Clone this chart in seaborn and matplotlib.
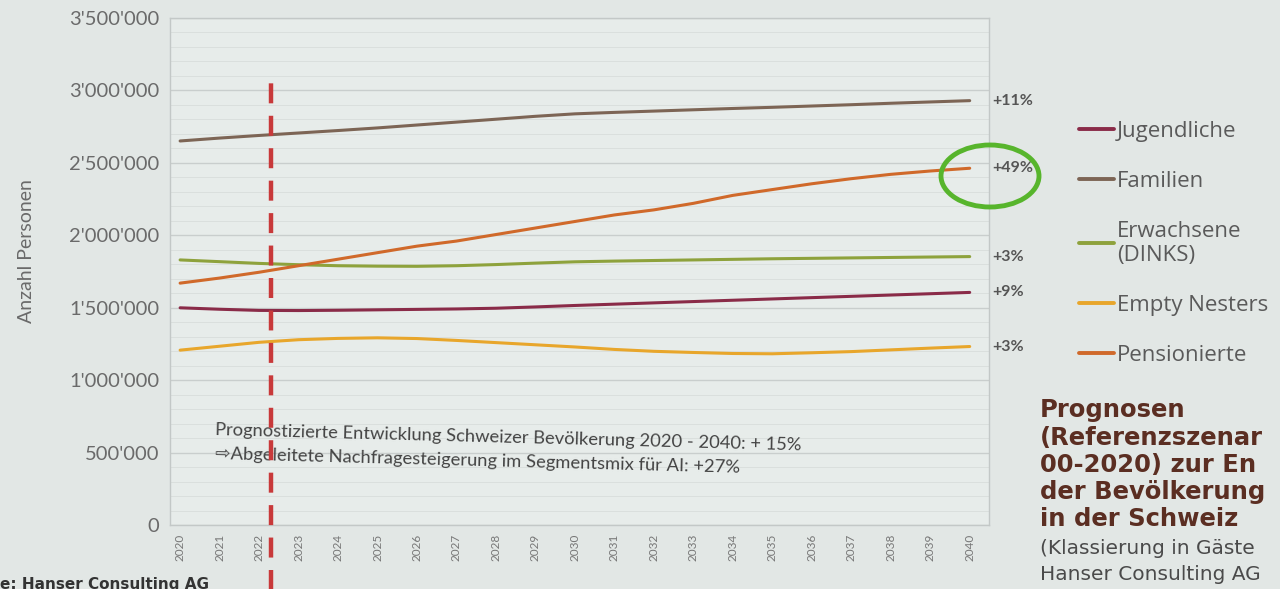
import matplotlib
matplotlib.use("Agg")
import matplotlib.pyplot as plt
import seaborn as sns
import pandas as pd
from matplotlib.patches import Ellipse
from matplotlib.ticker import FuncFormatter, MultipleLocator

# ---------------- data (in persons) ----------------
years = list(range(2020, 2041))

jugendliche = [1500000, 1490000, 1482000, 1481000, 1483000, 1486000, 1489000, 1492000,
               1497000, 1506000, 1516000, 1525000, 1534000, 1543000, 1552000, 1561000,
               1570000, 1579000, 1588000, 1597000, 1606000]
familien = [2650000, 2670000, 2688000, 2705000, 2722000, 2740000, 2760000, 2780000,
            2800000, 2820000, 2837000, 2847000, 2856000, 2865000, 2874000, 2882000,
            2891000, 2900000, 2910000, 2919000, 2928000]
erwachsene = [1830000, 1818000, 1806000, 1797000, 1790000, 1787000, 1786000, 1790000,
              1798000, 1808000, 1817000, 1822000, 1826000, 1830000, 1834000, 1838000,
              1841000, 1844000, 1847000, 1850000, 1853000]
empty_nesters = [1208000, 1235000, 1262000, 1280000, 1289000, 1293000, 1288000, 1275000,
                 1260000, 1245000, 1230000, 1213000, 1200000, 1192000, 1185000, 1183000,
                 1190000, 1198000, 1210000, 1222000, 1233000]
pensionierte = [1670000, 1705000, 1745000, 1790000, 1835000, 1880000, 1925000, 1960000,
                2005000, 2050000, 2095000, 2140000, 2175000, 2220000, 2275000, 2315000,
                2355000, 2390000, 2420000, 2443000, 2462000]

segments = ["Jugendliche", "Familien", "Erwachsene\n(DINKS)", "Empty Nesters", "Pensionierte"]
series = [jugendliche, familien, erwachsene, empty_nesters, pensionierte]
colors = ["#8a2b48", "#7d6555", "#8ea23c", "#e8a62b", "#d0692a"]
end_labels = ["+9%", "+11%", "+3%", "+3%", "+49%"]

y_ticks = [0, 500000, 1000000, 1500000, 2000000, 2500000, 3000000, 3500000]
grid_years = [2025, 2030, 2035, 2040]
marker_year = 2022.3   # red dashed "today" marker
marker_top = 3050000

note_line1 = "Prognostizierte Entwicklung Schweizer Bevölkerung 2020 - 2040: + 15%"
note_line2 = "\u21e8Abgeleitete Nachfragesteigerung im Segmentsmix für AI: +27%"
title_lines = ["Prognosen", "(Referenzszenar", "00-2020) zur En", "der Bevölkerung", "in der Schweiz"]
sub_lines = ["(Klassierung in Gäste", "Hanser Consulting AG"]
source_text = "e: Hanser Consulting AG"

# ---------------- figure ----------------
sns.set_theme(style="white")
plt.rcParams["font.family"] = ["Lato", "DejaVu Sans"]

BG = "#e2e7e5"
fig = plt.figure(figsize=(12.8, 5.89), dpi=100, facecolor=BG)
ax = fig.add_axes([0.133, 0.108, 0.64, 0.862])
ax.set_facecolor("#e7ecea")

df = pd.DataFrame({
    "Jahr": years * len(segments),
    "Anzahl": [v for s in series for v in s],
    "Segment": [seg for seg, s in zip(segments, series) for _ in s],
})
palette = dict(zip(segments, colors))
sns.lineplot(data=df, x="Jahr", y="Anzahl", hue="Segment", hue_order=segments,
             palette=palette, linewidth=2.2, legend=False, ax=ax, zorder=3)

ax.set_xlim(2019.75, 2040.5)
ax.set_ylim(0, 3500000)
ax.set_xticks(years)
ax.set_xticklabels([str(y) for y in years], rotation=90, fontsize=8.5, color="#777777")
ax.set_xticks(grid_years, minor=True)
ax.set_yticks(y_ticks)
ax.yaxis.set_minor_locator(MultipleLocator(100000))
ax.yaxis.set_major_formatter(FuncFormatter(lambda v, p: f"{int(v):,}".replace(",", "'")))
ax.tick_params(axis="y", labelsize=14.5, labelcolor="#6a6a6a", pad=8, length=0)
ax.tick_params(axis="x", which="both", length=0, pad=6)
ax.grid(which="major", axis="y", color="#c9cecd", linewidth=1.0)
ax.grid(which="minor", axis="y", color="#dadfdd", linewidth=0.7)
ax.grid(which="minor", axis="x", color="#c9cecd", linewidth=1.0)
ax.set_xlabel("")
ax.set_ylabel("Anzahl Personen", fontsize=14, color="#6a6a6a")
ax.yaxis.set_label_coords(-0.165, 0.54)
for sp in ax.spines.values():
    sp.set_color("#c3c8c7")
    sp.set_linewidth(1.0)

# red dashed marker line (extends below the axis)
ax.plot([marker_year, marker_year], [-480000, marker_top], color="#c8393a",
        linewidth=3.2, linestyle=(0, (4.5, 2.8)), clip_on=False, zorder=4)

# end-of-line percentage labels
for s, lab in zip(series, end_labels):
    ax.annotate(lab, xy=(years[-1], s[-1]), xytext=(16, 0), textcoords="offset points",
                va="center", ha="left", fontsize=11.5, fontweight="bold", color="#555555",
                annotation_clip=False)

# green hand-drawn circle around +49%
fig.patches.append(Ellipse((990 / 1280, 1 - 176 / 589), 98 / 1280, 62 / 589,
                           transform=fig.transFigure, fill=False,
                           edgecolor="#57b52c", linewidth=3.5))

# note text inside the plot
ax.text(2020.9, 655000, note_line1, fontsize=13.2, color="#444444", rotation=-1.5,
        va="center", ha="left", rotation_mode="anchor")
ax.text(2020.9, 495000, note_line2, fontsize=13.2, color="#444444", rotation=-1.5,
        va="center", ha="left", rotation_mode="anchor")

# legend on the right
handles = ax.get_lines()[:len(segments)]
leg = fig.legend(handles, segments, loc="upper left",
                 bbox_to_anchor=(1070 / 1280, 1 - 112 / 589), frameon=False,
                 fontsize=16, labelcolor="#5a5a5a", handlelength=1.6,
                 handletextpad=0.1, labelspacing=1.3, borderaxespad=0)
for t in leg.get_texts():
    t.set_family(["Open Sans", "DejaVu Sans"])
for h in leg.get_lines():
    h.set_linewidth(2.8)

# title block at bottom right
title_y = [410, 438, 465, 492, 519]
for txt, y in zip(title_lines, title_y):
    fig.text(1040 / 1280, 1 - y / 589, txt, fontsize=17.5, fontweight="bold",
             color="#5b2e22", family=["DejaVu Sans"], va="center", ha="left")
for txt, y in zip(sub_lines, [548, 574]):
    fig.text(1040 / 1280, 1 - y / 589, txt, fontsize=14.5, color="#4a4a4a",
             family=["DejaVu Sans"], va="center", ha="left")

fig.text(0 / 1280, 1 - 584 / 589, source_text, fontsize=11, fontweight="bold",
         color="#333333", va="center", ha="left", family=["DejaVu Sans"])

fig.savefig("out.png", dpi=100, facecolor=BG)
